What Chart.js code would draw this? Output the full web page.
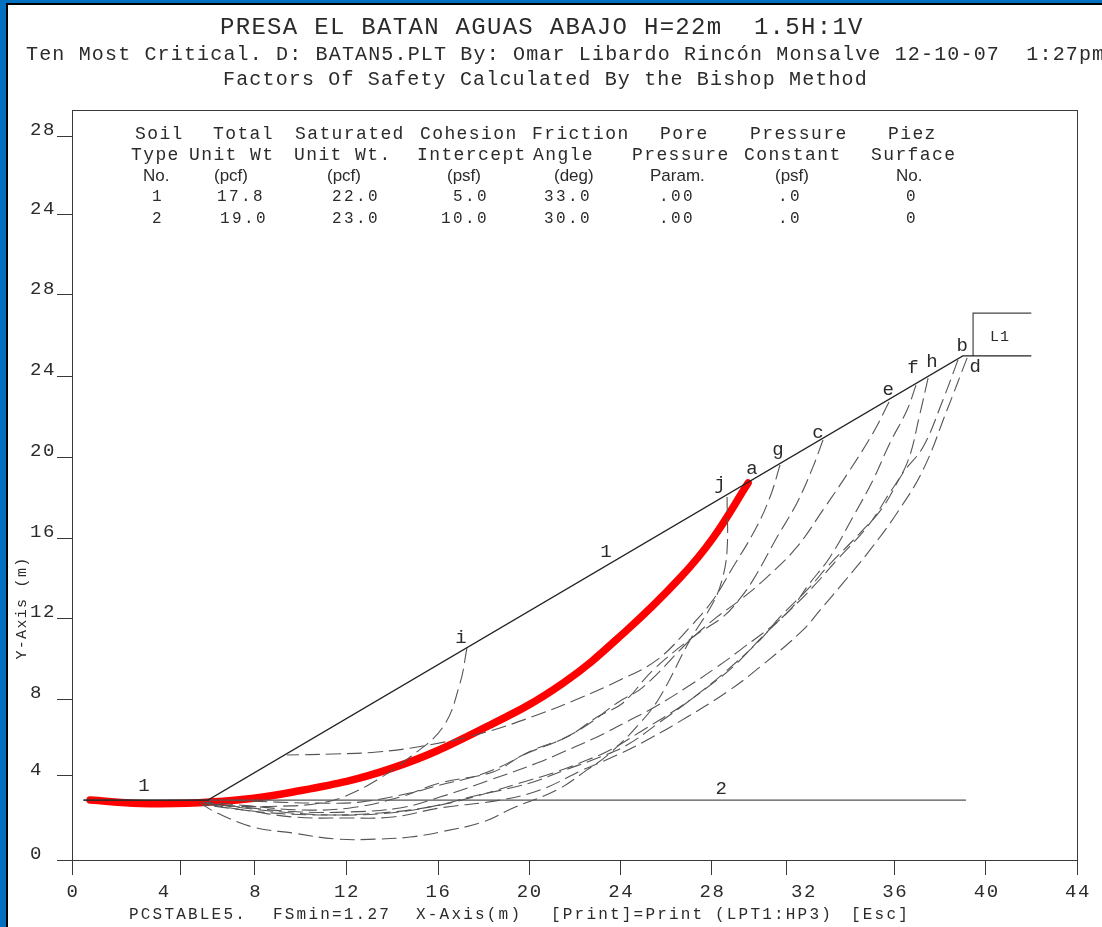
<!DOCTYPE html>
<html>
<head>
<meta charset="utf-8">
<style>
html, body { margin: 0; padding: 0; background: #fff; overflow: hidden; }
#frame { position: absolute; left: 0; top: 0; width: 1102px; height: 927px; box-sizing: border-box;
  border-left: 6px solid #0070c0; border-top: 3px solid #0070c0; pointer-events: none; }
#frame div { width: 100%; height: 100%; box-sizing: border-box; border-left: 2px solid #000; border-top: 2px solid #000; }
canvas { position: absolute; left: 0; top: 0; }
</style>
<script src="https://cdn.jsdelivr.net/npm/chart.js@4/dist/chart.umd.min.js"></script>
</head>
<body>
<canvas id="myChart" width="1102" height="927"></canvas>
<div id="frame"><div></div></div>
<script>
const title1 = 'PRESA EL BATAN AGUAS ABAJO H=22m  1.5H:1V'
const title2 = 'Ten Most Critical. D: BATAN5.PLT By: Omar Libardo Rincón Monsalve 12-10-07  1:27pm'
const title3 = 'Factors Of Safety Calculated By the Bishop Method'
const footerParts = ['PCSTABLE5.', 'FSmin=1.27', 'X-Axis(m)', '[Print]=Print', '(LPT1:HP3)', '[Esc]']
const yTitle = 'Y-Axis (m)'

const soilHead1 = ['Soil', 'Total', 'Saturated', 'Cohesion', 'Friction', 'Pore', 'Pressure', 'Piez']
const soilHead2 = ['Type', 'Unit Wt', 'Unit Wt.', 'Intercept', 'Angle', 'Pressure', 'Constant', 'Surface']
const soilUnits = ['No.', '(pcf)', '(pcf)', '(psf)', '(deg)', 'Param.', '(psf)', 'No.']
const soilRow1 = ['1', '17.8', '22.0', '5.0', '33.0', '.00', '.0', '0']
const soilRow2 = ['2', '19.0', '23.0', '10.0', '30.0', '.00', '.0', '0']

// the plot prints its ticks unevenly and repeats 24 and 28 at the top
const yTickValues = [0, 4.18, 8, 12.03, 16.01, 20.04, 24.07, 28.1, 32.08, 36]
const yTickLabels = ['0', '4', '8', '12', '16', '20', '24', '28', '24', '28']
const xTickMarks = [0, 4.73, 8, 12, 16.03, 20.01, 24, 28, 31.3, 36, 40, 44]
const xTickLabels = [0, 4, 8, 12, 16, 20, 24, 28, 32, 36, 40, 44]

const slopeX = [0.5, 5.95, 39, 39.45, 42]
const slopeY = [2.98, 2.98, 25.07, 25.07, 25.07]
const layer2X = [0.5, 39.14]
const layer2Y = [2.98, 2.98]
const boxX = [39.45, 39.45, 42]
const boxY = [25.07, 27.2, 27.2]

const arcAX = [0.79, 2.98, 6.04, 9.68, 14.05, 18.3, 21.5, 24.3, 26.62, 28.06, 29.6]
const arcAY = [2.98, 2.81, 2.88, 3.38, 4.58, 6.71, 8.8, 11.44, 14.03, 16.01, 18.75]

const arcBX = [38.79, 38.13, 37.26, 36.38, 35.51, 34.5, 33.06, 32.31, 31, 30.12, 28.59, 27.36, 25.74, 24.3, 23.12, 21.59, 20.05, 17.43, 16.11, 13.92, 11.3, 8.67, 5.82]
const arcBY = [24.87, 22.88, 20.54, 19.25, 17.56, 16.26, 14.57, 13.58, 12.09, 10.94, 9.35, 8.21, 6.86, 5.72, 5.12, 4.48, 3.83, 3.13, 2.74, 2.34, 2.24, 2.44, 2.83]

const arcCX = [32.88, 32.44, 31.74, 30.87, 29.82, 29.12, 28.5, 27.19, 25.44, 24.12, 22.99, 21.67, 20.18, 18.74, 17.56, 16.11, 14.8, 12.61, 10.86, 8.98, 6.79]
const arcCY = [20.89, 19.55, 17.76, 16.06, 13.93, 12.83, 12.09, 11.09, 9.45, 7.81, 7.11, 6.12, 5.47, 4.63, 4.13, 3.73, 3.33, 2.88, 2.83, 2.88, 2.98]

const arcDX = [39.19, 38.31, 37.26, 36.12, 34.94, 33.76, 32.75, 32.01, 30.12, 28.68, 26.93, 25.18, 23.86, 22.37, 20.49, 18.74, 16.11, 14.05, 11.87, 9.68, 7.49, 5.74]
const arcDY = [24.97, 22.38, 19.4, 17.26, 15.42, 13.78, 12.43, 11.44, 9.6, 8.36, 7.11, 5.97, 5.22, 4.48, 3.48, 2.98, 2.59, 2.14, 2.09, 2.14, 2.49, 2.74]

const arcEX = [35.77, 35.07, 34.06, 32.88, 31.74, 30.43, 29.25, 28.24, 27.06, 25, 23.86, 22.55, 21.37, 19.75, 18.43, 16.11, 14.36, 12.17, 9.98, 7.79, 5.95]
const arcEY = [22.78, 21.24, 19.4, 17.41, 15.57, 14.07, 12.93, 12.09, 10.94, 8.6, 7.81, 6.71, 5.97, 5.22, 4.38, 3.83, 3.13, 2.59, 2.49, 2.69, 2.88]

const arcFX = [36.95, 36.56, 35.81, 35.07, 34.19, 33.19, 32.31, 31.3, 29.25, 28.24, 26.93, 25.44, 24.43, 22.99, 21.5, 20.36, 18.3, 16.11, 14.36, 12.17, 9.98, 7.79, 5.82]
const arcFY = [23.62, 22.38, 20.74, 18.9, 17.06, 15.07, 13.78, 12.28, 10.44, 9.6, 8.6, 7.56, 6.96, 6.12, 5.37, 4.82, 3.98, 3.13, 2.59, 2.39, 2.39, 2.59, 2.83]

const arcGX = [31, 30.56, 29.9, 28.94, 28.06, 27.06, 25.61, 23.99, 22.24, 20.36, 17.99, 15.37, 13.35, 11.43, 9.41]
const arcGY = [19.65, 18.05, 16.41, 14.57, 12.93, 11.59, 9.95, 8.95, 8.06, 7.21, 6.32, 5.67, 5.37, 5.27, 5.22]

const arcHX = [37.48, 37.13, 36.56, 35.68, 34.81, 33.49, 32.44, 31.57, 30.34, 29.03, 28.24, 26.62, 24.87, 23.56, 22.55, 21.06, 19.61, 17.56, 15.67, 13.49, 10.86, 8.23, 5.82]
const arcHY = [23.97, 22.23, 19.74, 18.05, 16.56, 14.92, 13.58, 12.58, 11.24, 9.7, 8.95, 7.61, 6.37, 5.47, 4.97, 4.33, 3.83, 3.13, 2.64, 2.34, 2.24, 2.39, 2.79]

const arcIX = [17.29, 16.99, 16.24, 14.8, 13.35, 11.87, 10.86, 9.54, 6.92, 5.74]
const arcIY = [10.54, 8.8, 6.61, 5.12, 3.98, 3.13, 2.83, 2.69, 2.69, 2.88]

const arcJX = [28.68, 28.68, 28.46, 28.06, 27.06, 25.74, 24.87, 23.56, 22.55, 21.23, 19.31, 17.99, 16.11, 14.8, 13.35, 11.6, 9.68, 7.92, 6.35, 5.6]
const arcJY = [18.05, 15.42, 13.93, 12.78, 10.94, 8.11, 6.81, 5.32, 4.48, 3.48, 2.59, 1.89, 1.39, 1.14, 1.04, 1.04, 1.34, 1.64, 2.34, 2.83]

const plotLabels = ['a', 'b', 'c', 'd', 'e', 'f', 'g', 'h', 'i', 'j', '1', '2', '1', 'L1']
const plotLabelX = [29.77, 38.97, 32.66, 39.54, 35.73, 36.82, 30.91, 37.65, 17.03, 28.37, 23.38, 28.42, 3.15, 40.63]
const plotLabelY = [19.45, 25.56, 21.24, 24.52, 23.37, 24.47, 20.39, 24.77, 11.04, 18.7, 15.32, 3.53, 3.68, 26.01]

const ink = '#3a3a3a'
const mono = '"Liberation Mono", monospace'

function pts(xs, ys) {
    return xs.map((x, i) => ({ x: x, y: ys[i] }))
}

function solid(xs, ys, color) {
    return { data: pts(xs, ys), borderColor: color, borderWidth: 1.2, pointRadius: 0, tension: 0, showLine: true }
}

function dashed(xs, ys) {
    return { data: pts(xs, ys), borderColor: '#555', borderWidth: 1.1, borderDash: [15, 6], pointRadius: 0, tension: 0.4, showLine: true }
}

const soilCols = {
    head1: [135, 213, 295, 420, 532, 660, 750, 888],
    head2: [131, 189, 294, 417, 533, 632, 744, 871],
    units: [143, 214, 327, 447, 554, 650, 775, 896],
    row1: [152, 217, 332, 453, 544, 659, 778, 906],
    row2: [152, 220, 332, 441, 544, 659, 778, 906]
}
const footerCols = [129, 273, 416, 551, 715, 851]

function put(ctx, text, x, y, font, spacing, align) {
    ctx.font = font
    ctx.letterSpacing = spacing + 'px'
    ctx.textAlign = align || 'left'
    ctx.textBaseline = 'middle'
    ctx.fillText(text, x, y)
}

const textPlugin = {
    id: 'plotText',
    beforeDraw(chart) {
        const a = chart.chartArea
        const ctx = chart.ctx
        ctx.save()
        ctx.strokeStyle = ink
        ctx.lineWidth = 1
        ctx.strokeRect(a.left + 0.5, a.top + 0.5, a.right - a.left, a.bottom - a.top)
        ctx.restore()
        ctx.letterSpacing = '1.6px'
    },
    afterDraw(chart) {
        const ctx = chart.ctx
        ctx.save()
        ctx.fillStyle = '#2b2b2b'
        put(ctx, title1, 220, 28, '24px ' + mono, 1.3)
        put(ctx, title2, 26, 55, '20px ' + mono, 1.16)
        put(ctx, title3, 223, 80, '20px ' + mono, 1.16)

        soilHead1.forEach((t, i) => put(ctx, t, soilCols.head1[i], 134, '18px ' + mono, 1.4))
        soilHead2.forEach((t, i) => put(ctx, t, soilCols.head2[i], 155, '18px ' + mono, 1.4))
        soilUnits.forEach((t, i) => put(ctx, t, soilCols.units[i], 176, '17px "Liberation Sans", sans-serif', 0))
        soilRow1.forEach((t, i) => put(ctx, t, soilCols.row1[i], 197, '16px ' + mono, 2.4))
        soilRow2.forEach((t, i) => put(ctx, t, soilCols.row2[i], 219, '16px ' + mono, 2.4))

        plotLabels.forEach((t, i) => {
            const px = chart.scales.x.getPixelForValue(plotLabelX[i])
            const py = chart.scales.y.getPixelForValue(plotLabelY[i])
            put(ctx, t, px, py, (t === 'L1' ? '15px ' : '19px ') + mono, t === 'L1' ? 1 : 0, 'center')
        })

        footerParts.forEach((t, i) => put(ctx, t, footerCols[i], 915, '16px ' + mono, 2.2))

        ctx.translate(22, 608)
        ctx.rotate(-Math.PI / 2)
        put(ctx, yTitle, 0, 0, '15px ' + mono, 1.3, 'center')
        ctx.restore()
    }
}

const config = {
    type: 'scatter',
    data: {
        datasets: [
            solid(slopeX, slopeY, '#222'),
            solid(layer2X, layer2Y, '#555'),
            solid(boxX, boxY, '#444'),
            dashed(arcBX, arcBY),
            dashed(arcCX, arcCY),
            dashed(arcDX, arcDY),
            dashed(arcEX, arcEY),
            dashed(arcFX, arcFY),
            dashed(arcGX, arcGY),
            dashed(arcHX, arcHY),
            dashed(arcIX, arcIY),
            dashed(arcJX, arcJY),
            // last dataset is painted first, the thin lines stay on top of it
            { data: pts(arcAX, arcAY), borderColor: '#ff0000', borderWidth: 7.5, pointRadius: 0, tension: 0.4, showLine: true, borderCapStyle: 'round' }
        ]
    },
    options: {
        responsive: false,
        animation: false,
        layout: { padding: { left: 30, top: 110, right: 25, bottom: 0 } },
        scales: {
            x: {
                type: 'linear', min: 0, max: 44, weight: 0,
                afterBuildTicks: s => { s.ticks = xTickMarks.map(v => ({ value: v })) },
                afterFit: s => { s.height = 15 },
                grid: { drawOnChartArea: false, tickLength: 15, tickColor: ink, tickWidth: 1 },
                border: { color: ink, width: 1 },
                ticks: { display: false, autoSkip: false }
            },
            x2: {
                type: 'linear', axis: 'x', position: 'bottom', min: 0, max: 44, weight: 1,
                afterBuildTicks: s => { s.ticks = xTickLabels.map(v => ({ value: v })) },
                afterFit: s => { s.height = 52 },
                grid: { display: false, drawTicks: false },
                border: { display: false },
                ticks: {
                    autoSkip: false, maxRotation: 0, padding: 6, labelOffset: 1,
                    color: '#2b2b2b', font: { family: 'Liberation Mono', size: 19 }
                }
            },
            y: {
                type: 'linear', min: 0, max: 37.3,
                afterBuildTicks: s => { s.ticks = yTickValues.map(v => ({ value: v })) },
                afterFit: s => { s.width = 42 },
                grid: { drawOnChartArea: false, tickLength: 15, tickColor: ink, tickWidth: 1 },
                border: { color: ink, width: 1 },
                ticks: {
                    autoSkip: false, padding: 1, labelOffset: -6, crossAlign: 'far',
                    color: '#2b2b2b', font: { family: 'Liberation Mono', size: 19 },
                    callback: (v, i) => yTickLabels[i]
                }
            }
        },
        plugins: {
            legend: { display: false },
            title: { display: false },
            tooltip: { enabled: false }
        }
    },
    plugins: [textPlugin]
}

const myChart = new Chart('myChart', config)
</script>
</body>
</html>
